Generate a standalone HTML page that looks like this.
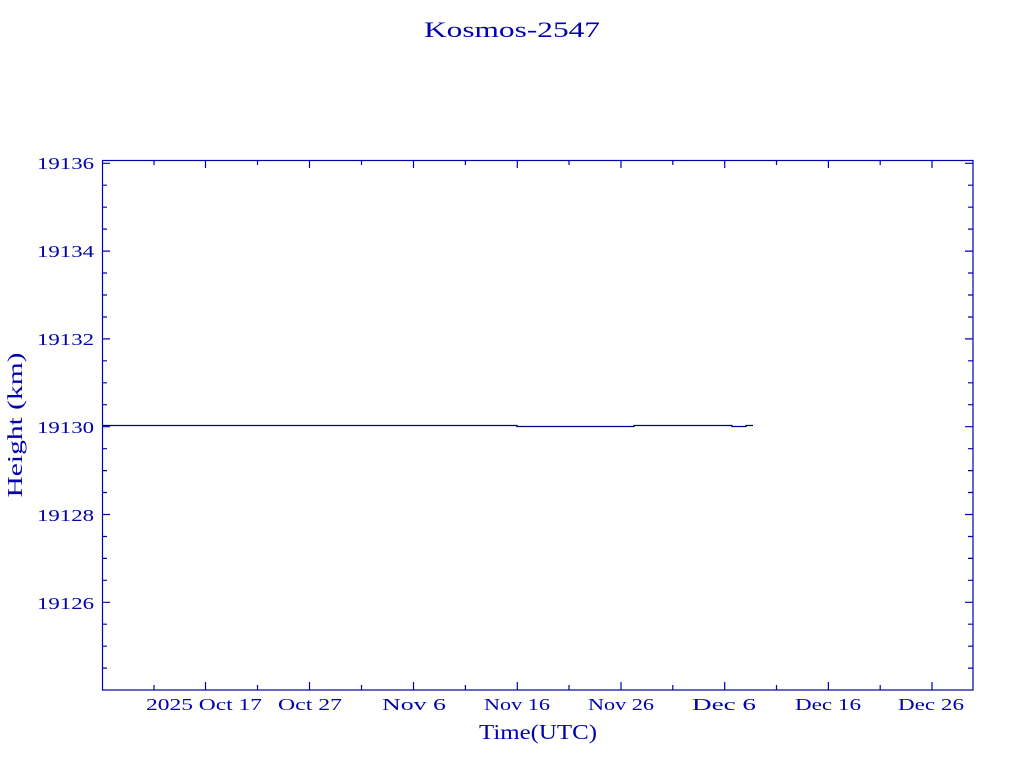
<!DOCTYPE html>
<html><head><meta charset="utf-8"><style>
html,body{margin:0;padding:0;background:#fff;}
svg{display:block;}
text{fill:#0000b0;font-family:"Liberation Serif",serif;}
</style></head><body>
<svg width="1024" height="768" xmlns="http://www.w3.org/2000/svg">
<text x="512" y="37" font-size="22" text-anchor="middle" textLength="176" lengthAdjust="spacingAndGlyphs">Kosmos-2547</text>
<rect x="102.5" y="160.5" width="870.5" height="529.5" fill="none" stroke="#0000b0" stroke-width="1.2"/>
<g stroke="#0000b0" stroke-width="1.2" id="ticks">
<!-- y major -->
<path d="M102 163.3h8M102 251.1h8M102 338.9h8M102 426.7h8M102 514.5h8M102 602.3h8
M973 163.3h-8M973 251.1h-8M973 338.9h-8M973 426.7h-8M973 514.5h-8M973 602.3h-8"/>
<!-- y minor -->
<path d="M102 185.2h5M102 207.2h5M102 229.1h5M102 273h5M102 295h5M102 317h5M102 360.8h5M102 382.8h5M102 404.7h5M102 448.7h5M102 470.6h5M102 492.5h5M102 536.5h5M102 558.4h5M102 580.3h5M102 624.2h5M102 646.2h5M102 668.1h5
M973 185.2h-5M973 207.2h-5M973 229.1h-5M973 273h-5M973 295h-5M973 317h-5M973 360.8h-5M973 382.8h-5M973 404.7h-5M973 448.7h-5M973 470.6h-5M973 492.5h-5M973 536.5h-5M973 558.4h-5M973 580.3h-5M973 624.2h-5M973 646.2h-5M973 668.1h-5"/>
<!-- x major -->
<path d="M205.5 690v-8M309.5 690v-8M413.5 690v-8M517.3 690v-8M621 690v-8M724.7 690v-8M828.4 690v-8M932 690v-8
M205.5 160v8M309.5 160v8M413.5 160v8M517.3 160v8M621 160v8M724.7 160v8M828.4 160v8M932 160v8"/>
<!-- x minor -->
<path d="M154 690v-5M257.5 690v-5M361.5 690v-5M465.4 690v-5M569 690v-5M672.8 690v-5M776.5 690v-5M880.2 690v-5
M154 160v5M257.5 160v5M361.5 160v5M465.4 160v5M569 160v5M672.8 160v5M776.5 160v5M880.2 160v5"/>
</g>
<path d="M102 425.5H517V426.5H634V425.5H732V426.5H746V425.5H753" fill="none" stroke="#000080" stroke-width="1.3"/>
<g font-size="17">
<text x="94" y="169" text-anchor="end" textLength="57" lengthAdjust="spacingAndGlyphs">19136</text>
<text x="94" y="257" text-anchor="end" textLength="57" lengthAdjust="spacingAndGlyphs">19134</text>
<text x="94" y="345" text-anchor="end" textLength="57" lengthAdjust="spacingAndGlyphs">19132</text>
<text x="94" y="433" text-anchor="end" textLength="57" lengthAdjust="spacingAndGlyphs">19130</text>
<text x="94" y="521" text-anchor="end" textLength="57" lengthAdjust="spacingAndGlyphs">19128</text>
<text x="94" y="609" text-anchor="end" textLength="57" lengthAdjust="spacingAndGlyphs">19126</text>
<text x="146" y="710" textLength="116" lengthAdjust="spacingAndGlyphs">2025 Oct 17</text>
<text x="278" y="710" textLength="64" lengthAdjust="spacingAndGlyphs">Oct 27</text>
<text x="382" y="710" textLength="64" lengthAdjust="spacingAndGlyphs">Nov  6</text>
<text x="484" y="710" textLength="66" lengthAdjust="spacingAndGlyphs">Nov 16</text>
<text x="588" y="710" textLength="66" lengthAdjust="spacingAndGlyphs">Nov 26</text>
<text x="692" y="710" textLength="64" lengthAdjust="spacingAndGlyphs">Dec  6</text>
<text x="795" y="710" textLength="66" lengthAdjust="spacingAndGlyphs">Dec 16</text>
<text x="898" y="710" textLength="66" lengthAdjust="spacingAndGlyphs">Dec 26</text>
</g>
<text x="538" y="739" font-size="21" text-anchor="middle" textLength="118" lengthAdjust="spacingAndGlyphs">Time(UTC)</text>
<text transform="translate(22,425) rotate(-90)" font-size="21" text-anchor="middle" textLength="145" lengthAdjust="spacingAndGlyphs">Height (km)</text>
</svg>
</body></html>
